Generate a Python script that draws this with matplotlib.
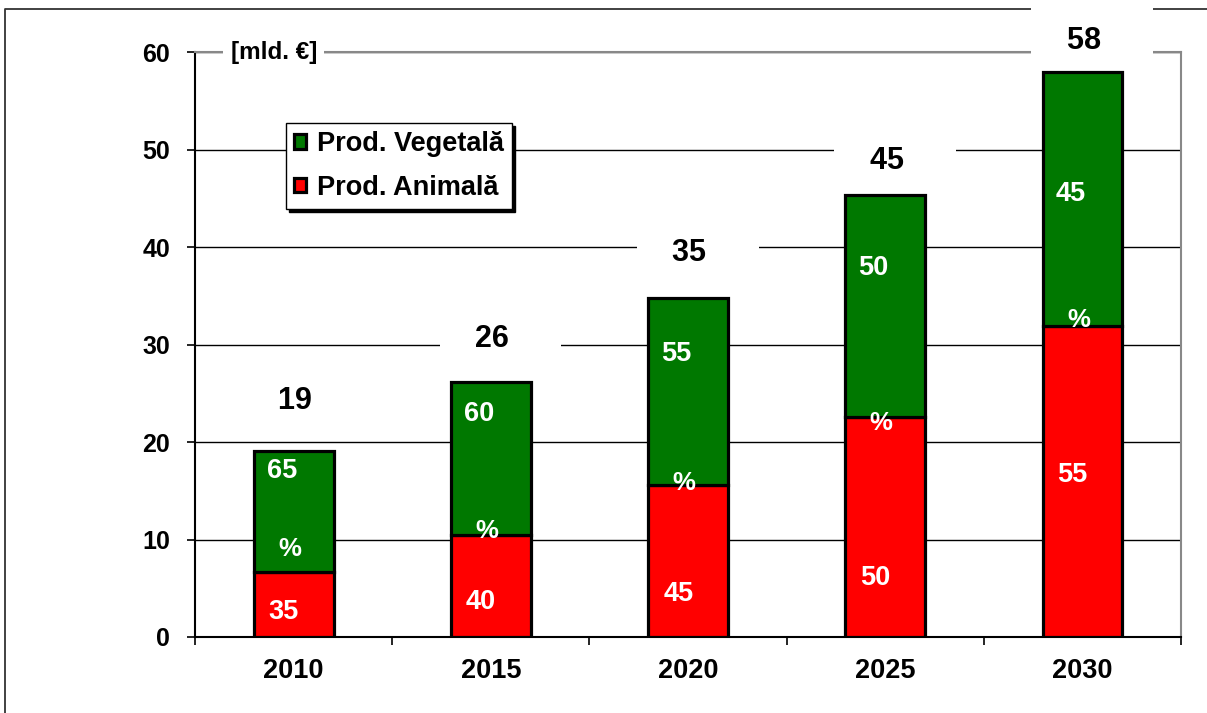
import matplotlib
matplotlib.use('Agg')
import matplotlib.pyplot as plt
from matplotlib.lines import Line2D
import numpy as np

plt.rcParams['font.family'] = ['Liberation Sans', 'DejaVu Sans']
plt.rcParams['font.weight'] = 'bold'

# data (mld. EUR)
years = ['2010', '2015', '2020', '2025', '2030']
animal = [6.7, 10.5, 15.6, 22.6, 31.9]
vegetal = [12.4, 15.7, 19.2, 22.7, 26.1]
totals = [19, 26, 35, 45, 58]
pct_animal = [35, 40, 45, 50, 55]
pct_vegetal = [65, 60, 55, 50, 45]

# where the labels sit (fraction of segment height / offsets in units)
veg_lbl_frac = [0.83, 0.79, 0.70, 0.67, 0.52]
ani_lbl_frac = [0.39, 0.34, 0.28, 0.27, 0.52]
pct_lbl_off = [2.3, 0.4, 0.2, -0.6, 0.6]
tot_lbl_off = [5.1, 4.4, 4.6, 3.5, 3.1]

green = '#007800'
red = '#ff0000'

fig = plt.figure(figsize=(12.07, 7.13), dpi=100)
ax = fig.add_axes([0.1616, 0.1066, 0.9785 - 0.1616, 0.927 - 0.1066])

x = np.arange(len(years))
b1 = ax.bar(x, animal, width=0.405, color=red, edgecolor='black', linewidth=2.3,
            label='Prod. Animală', zorder=2)
b2 = ax.bar(x, vegetal, bottom=animal, width=0.405, color=green, edgecolor='black',
            linewidth=2.3, label='Prod. Vegetală', zorder=2)

for i in range(len(years)):
    top = animal[i] + vegetal[i]
    # white box behind the total hides grid / frame lines (drawn under the bars)
    ax.text(x[i] + 0.05, top + tot_lbl_off[i], '  %d    ' % totals[i], ha='center', va='center',
            fontsize=22, fontweight='bold', zorder=1.8,
            bbox=dict(boxstyle='square,pad=0.6', fc='white', ec='none'))
    ax.text(x[i] - 0.06, animal[i] + veg_lbl_frac[i] * vegetal[i], str(pct_vegetal[i]),
            ha='center', va='center', color='white', fontsize=19.5, fontweight='bold', zorder=4)
    ax.text(x[i] - 0.05, ani_lbl_frac[i] * animal[i], str(pct_animal[i]),
            ha='center', va='center', color='white', fontsize=19.5, fontweight='bold', zorder=4)
    ax.text(x[i] - 0.02, animal[i] + pct_lbl_off[i], '%',
            ha='center', va='center', color='white', fontsize=18.5, fontweight='bold', zorder=4)

ax.text(-0.32, 60, '[mld. €]', ha='left', va='center', fontsize=17.5, fontweight='bold',
        zorder=1.8, bbox=dict(boxstyle='square,pad=0.3', fc='white', ec='none'))

ax.set_xlim(-0.5, 4.5)
ax.set_ylim(0, 60)
ax.set_yticks(np.arange(0, 61, 10))
ax.set_xticks(x)
ax.set_xticklabels(years)
ax.set_xticks(np.arange(-0.5, 5, 1), minor=True)
ax.tick_params(axis='x', which='major', length=0, pad=15, labelsize=19.5)
ax.tick_params(axis='x', which='minor', length=6, width=1.2, direction='out')
ax.tick_params(axis='y', length=6, width=1.2, pad=12, labelsize=18)
for lbl in ax.get_xticklabels() + ax.get_yticklabels():
    lbl.set_fontweight('bold')

ax.yaxis.grid(True, color='black', linewidth=1)
ax.set_axisbelow(True)
ax.spines['left'].set_color('black')
ax.spines['left'].set_linewidth(1.5)
ax.spines['bottom'].set_color('black')
ax.spines['bottom'].set_linewidth(1.5)
ax.spines['top'].set_color('#888888')
ax.spines['right'].set_color('#888888')
ax.spines['top'].set_linewidth(1.5)
ax.spines['right'].set_linewidth(1.5)
for sp in ax.spines.values():
    sp.set_zorder(1)

# outer frame of the chart object
fx = 5 / 1207
fy = 1 - 9 / 713
ax.add_line(Line2D([fx, fx, 1.01], [-0.01, fy, fy], transform=fig.transFigure,
                   color='#333333', linewidth=1.3, clip_on=False, zorder=0.5))

leg = ax.legend(handles=[b2, b1], loc='upper left',
                bbox_to_anchor=(286 / 1207, 1 - 123 / 713), bbox_transform=fig.transFigure,
                prop={'weight': 'bold', 'size': 19.5},
                handlelength=0.45, handleheight=0.45, handletextpad=0.4,
                labelspacing=0.65, borderpad=0.3, borderaxespad=0,
                fancybox=False, framealpha=1, edgecolor='black',
                shadow={'color': 'black', 'alpha': 1})
leg.get_frame().set_linewidth(1.0)
leg.set_zorder(6)

fig.savefig('out.png', dpi=100)
